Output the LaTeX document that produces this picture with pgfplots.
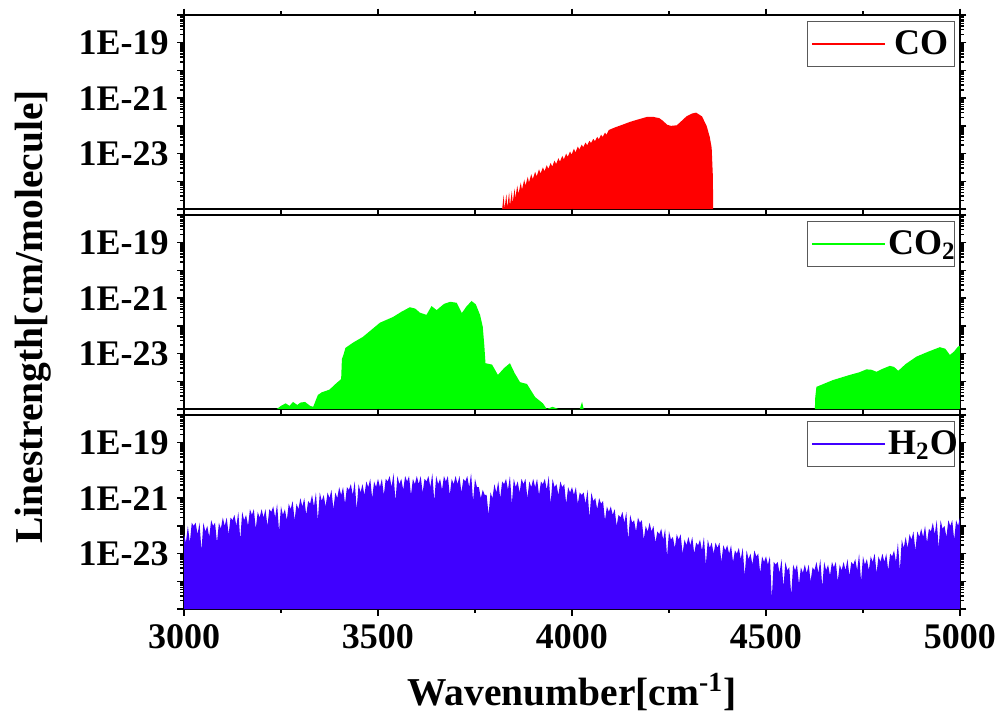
\documentclass[border=0pt]{standalone}
\usepackage{fontspec}
\setmainfont{Liberation Serif}
\usepackage{pgfplots}
\pgfplotsset{compat=1.18}
\definecolor{coRed}{RGB}{255,0,0}
\definecolor{coGreen}{RGB}{0,255,0}
\definecolor{hBlue}{RGB}{64,0,255}
\newcommand{\tickfont}{\fontsize{14.4}{16}\selectfont\bfseries}
\newcommand{\labfont}{\fontsize{15.8}{18}\selectfont\bfseries}
\pgfplotsset{
 legend image code/.code={\draw[#1] (0pt,0pt) -- (29pt,0pt);},
 panel/.style={
  scale only axis, width=310.4pt, height=77.6pt,
  xmin=3000, xmax=5000, ymin=1e-25, ymax=1e-18,
  xtick={3000,3500,4000,4500,5000}, minor xtick={3250,3750,4250,4750},
  ytick={1e-25,1e-24,1e-23,1e-22,1e-21,1e-20,1e-19,1e-18},
  yticklabels={,,1E-23,,1E-21,,1E-19,},
  tick align=outside, tick pos=both,
  major tick length=2.6pt, minor tick length=1.5pt,
  tick style={black, line width=0.6pt},
  axis line style={line width=0.9pt},
  ticklabel style={font=\tickfont},
  legend style={at={(0.9936,0.969)}, anchor=north east, draw=gray!70!black,
    line width=0.5pt, font=\tickfont, inner xsep=1.5pt, inner ysep=1.5pt,
    nodes={text width=24pt, align=right, inner xsep=1pt}},
 }
}
\begin{document}
\begin{tikzpicture}
\useasboundingbox (0,0) rectangle (400pt,287.6pt);
% ---------------- CO ----------------
\begin{axis}[ymode=log, panel, /pgf/number format/assume math mode=true, at={(73.6pt,204pt)}, anchor=south west, xticklabels={}]
\addplot[fill=coRed, draw=none, forget plot] coordinates {
(3820,1e-25)
(3824,3.2e-25)(3826,1e-25)(3831,3.5e-25)(3833,1.1e-25)(3838,4.0e-25)(3840,1.3e-25)
(3845,4.6e-25)(3847,1.6e-25)(3852,5.5e-25)(3854,2.5e-25)(3859,7.0e-25)(3862,3.5e-25)
(3868,9.0e-25)(3871,5.0e-25)(3877,1.15e-24)(3880,7.0e-25)(3886,1.45e-24)(3889,9.0e-25)
(3895,1.8e-24)(3899,1.2e-24)(3905,2.2e-24)(3909,1.5e-24)(3915,2.7e-24)(3919,1.9e-24)
(3925,3.2e-24)(3929,2.3e-24)(3935,3.8e-24)(3939,2.8e-24)(3945,4.6e-24)(3949,3.4e-24)
(3955,5.6e-24)(3959,4.2e-24)(3965,6.8e-24)(3969,5.1e-24)(3975,8.3e-24)(3979,6.2e-24)
(3985,1.0e-23)(3989,7.6e-24)(3995,1.2e-23)(3999,9.2e-24)(4005,1.5e-23)(4009,1.1e-23)
(4015,1.8e-23)(4019,1.4e-23)(4025,2.1e-23)(4029,1.7e-23)(4035,2.5e-23)(4039,2.0e-23)
(4045,2.9e-23)(4049,2.4e-23)(4055,3.4e-23)(4059,2.8e-23)(4065,4.0e-23)(4069,3.3e-23)
(4075,4.8e-23)(4079,4.0e-23)(4085,5.7e-23)(4089,4.8e-23)(4095,7.1e-23)
(4110,8.7e-23)(4130,1.1e-22)(4150,1.4e-22)(4170,1.7e-22)(4193,2.1e-22)(4210,2.1e-22)
(4225,1.9e-22)(4235,1.5e-22)(4245,1.1e-22)(4255,1.0e-22)(4270,1.05e-22)(4280,1.4e-22)
(4295,2.2e-22)(4310,2.8e-22)(4320,3.0e-22)(4335,2.2e-22)(4347,1.0e-22)(4355,4.0e-23)
(4360,1.6e-23)(4363,1.6e-24)(4364,1e-25)
} -- cycle;
\addlegendimage{coRed, line width=0.8pt}
\addlegendentry{CO}
\end{axis}
% ---------------- CO2 ----------------
\begin{axis}[ymode=log, panel, /pgf/number format/assume math mode=true, at={(73.6pt,124pt)}, anchor=south west, xticklabels={}]
\addplot[fill=coGreen, draw=none, forget plot] coordinates {
(3239,1e-25)(3250,1.3e-25)(3262,1.6e-25)(3272,1.3e-25)(3281,1.8e-25)(3292,1.4e-25)
(3300,1.7e-25)(3312,1.8e-25)(3325,1.3e-25)(3333,1.2e-25)(3345,3.2e-25)(3355,4.0e-25)
(3375,5.0e-25)(3390,7.9e-25)(3405,1.2e-24)(3407,6.3e-24)(3412,1.0e-23)(3416,1.6e-23)
(3436,2.5e-23)(3461,4.0e-23)(3505,1.3e-22)(3539,2.1e-22)(3560,3.2e-22)(3582,4.7e-22)
(3596,4.2e-22)(3608,3.0e-22)(3625,2.5e-22)(3638,5.2e-22)(3651,3.7e-22)(3670,6.2e-22)
(3686,7.4e-22)(3703,6.8e-22)(3716,2.9e-22)(3728,5.0e-22)(3741,7.9e-22)(3752,6.0e-22)
(3763,2.5e-22)(3770,9.3e-23)(3774,2.0e-23)(3777,4.5e-24)(3794,4.0e-24)(3809,1.7e-24)
(3825,3.0e-24)(3840,4.5e-24)(3852,2.0e-24)(3866,9.3e-25)(3884,8.0e-25)(3895,4.5e-25)
(3905,2.7e-25)(3925,1.6e-25)(3935,1e-25)(3950,1.2e-25)(3965,1e-25)(4020,1e-25)
(4026,1.8e-25)(4030,1e-25)
} -- cycle;
\addplot[fill=coGreen, draw=none, forget plot] coordinates {
(4626,1e-25)(4627,2.7e-25)(4630,6.3e-25)(4639,7.1e-25)(4672,1.1e-24)(4716,1.7e-24)
(4740,2.1e-24)(4759,2.7e-24)(4772,2.6e-24)(4785,2.2e-24)(4800,2.8e-24)(4819,3.6e-24)
(4830,3.3e-24)(4841,2.4e-24)(4860,4.2e-24)(4888,7.8e-24)(4920,1.2e-23)(4948,1.7e-23)
(4962,1.5e-23)(4974,8.9e-24)(4985,1.2e-23)(4995,1.8e-23)(5000,1.9e-23)(5000,1e-25)
} -- cycle;
\addlegendimage{coGreen, line width=0.8pt}
\addlegendentry{CO\textsubscript{2}}
\end{axis}
% ---------------- H2O ----------------
\begin{axis}[ymode=log, panel, /pgf/number format/assume math mode=true, at={(73.6pt,44pt)}, anchor=south west,
  xticklabels={3000,3500,4000,4500,5000}]
\addplot[fill=hBlue, draw=none, forget plot] coordinates {
(3000,1e-25)
(3000,5.0e-23)(3005,2.5e-23)(3010,1.0e-22)(3015,2.5e-23)(3020,1.3e-22)(3025,1.0e-22)
(3030,1.3e-22)(3035,5.0e-23)(3040,1.3e-22)(3045,1.3e-23)(3050,1.3e-22)(3055,6.3e-23)
(3060,1.0e-22)(3065,4.0e-23)(3070,1.6e-22)(3075,1.0e-22)(3080,1.3e-22)(3085,2.5e-23)
(3090,1.3e-22)(3095,7.9e-23)(3100,2.0e-22)(3105,1.0e-22)(3110,2.0e-22)(3115,5.0e-23)
(3120,2.0e-22)(3125,1.6e-22)(3130,2.5e-22)(3135,1.0e-22)(3140,3.2e-22)(3145,3.2e-23)
(3150,3.2e-22)(3155,1.6e-22)(3160,2.5e-22)(3165,1.0e-22)(3170,4.0e-22)(3175,2.5e-22)
(3180,4.0e-22)(3185,7.9e-23)(3190,3.2e-22)(3195,2.0e-22)(3200,4.0e-22)(3205,2.0e-22)
(3210,4.0e-22)(3215,1.0e-22)(3220,4.0e-22)(3225,3.2e-22)(3230,5.0e-22)(3235,2.0e-22)
(3240,6.3e-22)(3245,6.3e-23)(3250,5.0e-22)(3255,2.5e-22)(3260,4.0e-22)(3265,1.6e-22)
(3270,6.3e-22)(3275,4.0e-22)(3280,7.9e-22)(3285,1.6e-22)(3290,6.3e-22)(3295,4.0e-22)
(3300,1.0e-21)(3305,5.0e-22)(3310,1.0e-21)(3315,2.5e-22)(3320,7.9e-22)(3325,6.3e-22)
(3330,1.3e-21)(3335,5.0e-22)(3340,1.6e-21)(3345,1.6e-22)(3350,1.6e-21)(3355,7.9e-22)
(3360,1.3e-21)(3365,5.0e-22)(3370,1.6e-21)(3375,1.0e-21)(3380,2.0e-21)(3385,4.0e-22)
(3390,1.6e-21)(3395,1.0e-21)(3400,2.5e-21)(3405,1.3e-21)(3410,2.5e-21)(3415,6.3e-22)
(3420,2.5e-21)(3425,2.0e-21)(3430,3.2e-21)(3435,1.3e-21)(3440,4.0e-21)(3445,4.0e-22)
(3450,3.2e-21)(3455,1.6e-21)(3460,3.2e-21)(3465,1.3e-21)(3470,4.0e-21)(3475,2.5e-21)
(3480,5.0e-21)(3485,1.0e-21)(3490,4.0e-21)(3495,2.5e-21)(3500,5.0e-21)(3505,2.5e-21)
(3510,5.0e-21)(3515,1.3e-21)(3520,5.0e-21)(3525,4.0e-21)(3530,6.3e-21)(3535,2.5e-21)
(3540,7.9e-21)(3545,7.9e-22)(3550,6.3e-21)(3555,3.2e-21)(3560,5.0e-21)(3565,2.0e-21)
(3570,6.3e-21)(3575,4.0e-21)(3580,6.3e-21)(3585,1.3e-21)(3590,5.0e-21)(3595,3.2e-21)
(3600,6.3e-21)(3605,3.2e-21)(3610,6.3e-21)(3615,1.6e-21)(3620,5.0e-21)(3625,4.0e-21)
(3630,6.3e-21)(3635,2.5e-21)(3640,7.9e-21)(3645,7.9e-22)(3650,6.3e-21)(3655,3.2e-21)
(3660,5.0e-21)(3665,2.0e-21)(3670,6.3e-21)(3675,4.0e-21)(3680,6.3e-21)(3685,1.3e-21)
(3690,5.0e-21)(3695,3.2e-21)(3700,6.3e-21)(3705,3.2e-21)(3710,6.3e-21)(3715,1.6e-21)
(3720,5.0e-21)(3725,4.0e-21)(3730,6.3e-21)(3735,2.5e-21)(3740,7.9e-21)(3745,7.9e-22)
(3750,5.0e-21)(3755,2.5e-21)(3760,2.5e-21)(3765,1.0e-21)(3770,2.0e-21)(3775,1.3e-21)
(3780,1.3e-21)(3785,2.5e-22)(3790,1.6e-21)(3795,1.0e-21)(3800,3.2e-21)(3805,1.6e-21)
(3810,4.0e-21)(3815,1.0e-21)(3820,4.0e-21)(3825,3.2e-21)(3830,5.0e-21)(3835,2.0e-21)
(3840,6.3e-21)(3845,6.3e-22)(3850,5.0e-21)(3855,2.5e-21)(3860,4.0e-21)(3865,1.6e-21)
(3870,5.0e-21)(3875,3.2e-21)(3880,5.0e-21)(3885,1.0e-21)(3890,4.0e-21)(3895,2.5e-21)
(3900,5.0e-21)(3905,2.5e-21)(3910,5.0e-21)(3915,1.3e-21)(3920,4.0e-21)(3925,3.2e-21)
(3930,5.0e-21)(3935,2.0e-21)(3940,6.3e-21)(3945,6.3e-22)(3950,5.0e-21)(3955,2.5e-21)
(3960,3.2e-21)(3965,1.3e-21)(3970,4.0e-21)(3975,2.5e-21)(3980,3.2e-21)(3985,6.3e-22)
(3990,2.5e-21)(3995,1.6e-21)(4000,2.5e-21)(4005,1.3e-21)(4010,2.5e-21)(4015,6.3e-22)
(4020,1.6e-21)(4025,1.3e-21)(4030,1.6e-21)(4035,6.3e-22)(4040,2.0e-21)(4045,2.0e-22)
(4050,1.6e-21)(4055,7.9e-22)(4060,1.0e-21)(4065,4.0e-22)(4070,1.0e-21)(4075,6.3e-22)
(4080,7.9e-22)(4085,1.6e-22)(4090,5.0e-22)(4095,3.2e-22)(4100,5.0e-22)(4105,2.5e-22)
(4110,4.0e-22)(4115,1.0e-22)(4120,2.5e-22)(4125,2.0e-22)(4130,3.2e-22)(4135,1.3e-22)
(4140,3.2e-22)(4145,3.2e-23)(4150,2.5e-22)(4155,1.3e-22)(4160,1.6e-22)(4165,6.3e-23)
(4170,2.0e-22)(4175,1.3e-22)(4180,1.6e-22)(4185,3.2e-23)(4190,1.0e-22)(4195,6.3e-23)
(4200,1.3e-22)(4205,6.3e-23)(4210,1.0e-22)(4215,2.5e-23)(4220,6.3e-23)(4225,5.0e-23)
(4230,7.9e-23)(4235,3.2e-23)(4240,7.9e-23)(4245,7.9e-24)(4250,6.3e-23)(4255,3.2e-23)
(4260,4.0e-23)(4265,1.6e-23)(4270,5.0e-23)(4275,3.2e-23)(4280,5.0e-23)(4285,1.0e-23)
(4290,3.2e-23)(4295,2.0e-23)(4300,4.0e-23)(4305,2.0e-23)(4310,4.0e-23)(4315,1.0e-23)
(4320,2.5e-23)(4325,2.0e-23)(4330,3.2e-23)(4335,1.3e-23)(4340,4.0e-23)(4345,4.0e-24)
(4350,3.2e-23)(4355,1.6e-23)(4360,2.5e-23)(4365,1.0e-23)(4370,2.5e-23)(4375,1.6e-23)
(4380,2.5e-23)(4385,5.0e-24)(4390,2.0e-23)(4395,1.3e-23)(4400,2.0e-23)(4405,1.0e-23)
(4410,2.0e-23)(4415,5.0e-24)(4420,1.3e-23)(4425,1.0e-23)(4430,1.6e-23)(4435,6.3e-24)
(4440,1.6e-23)(4445,1.6e-24)(4450,1.3e-23)(4455,6.3e-24)(4460,1.0e-23)(4465,4.0e-24)
(4470,1.3e-23)(4475,7.9e-24)(4480,1.0e-23)(4485,2.0e-24)(4490,7.9e-24)(4495,5.0e-24)
(4500,7.9e-24)(4505,4.0e-24)(4510,7.9e-24)(4515,2.5e-25)(4520,5.0e-24)(4525,4.0e-24)
(4530,5.0e-24)(4535,2.0e-24)(4540,6.3e-24)(4545,6.3e-25)(4550,5.0e-24)(4555,2.5e-24)
(4560,3.2e-24)(4565,3.2e-25)(4570,4.0e-24)(4575,2.5e-24)(4580,4.0e-24)(4585,7.9e-25)
(4590,3.2e-24)(4595,2.0e-24)(4600,4.0e-24)(4605,2.0e-24)(4610,4.0e-24)(4615,1.0e-24)
(4620,3.2e-24)(4625,2.5e-24)(4630,5.0e-24)(4635,2.0e-24)(4640,6.3e-24)(4645,6.3e-25)
(4650,5.0e-24)(4655,2.5e-24)(4660,4.0e-24)(4665,1.6e-24)(4670,5.0e-24)(4675,3.2e-24)
(4680,5.0e-24)(4685,1.0e-24)(4690,4.0e-24)(4695,2.5e-24)(4700,5.0e-24)(4705,2.5e-24)
(4710,6.3e-24)(4715,1.6e-24)(4720,5.0e-24)(4725,4.0e-24)(4730,6.3e-24)(4735,2.5e-24)
(4740,1.0e-23)(4745,1.0e-24)(4750,7.9e-24)(4755,4.0e-24)(4760,6.3e-24)(4765,2.5e-24)
(4770,7.9e-24)(4775,5.0e-24)(4780,1.0e-23)(4785,2.0e-24)(4790,7.9e-24)(4795,5.0e-24)
(4800,1.0e-23)(4805,5.0e-24)(4810,1.0e-23)(4815,2.5e-24)(4820,1.0e-23)(4825,7.9e-24)
(4830,1.3e-23)(4835,5.0e-24)(4840,2.5e-23)(4845,2.5e-24)(4850,3.2e-23)(4855,1.6e-23)
(4860,4.0e-23)(4865,1.6e-23)(4870,5.0e-23)(4875,3.2e-23)(4880,6.3e-23)(4885,1.3e-23)
(4890,6.3e-23)(4895,4.0e-23)(4900,7.9e-23)(4905,4.0e-23)(4910,1.0e-22)(4915,2.5e-23)
(4920,7.9e-23)(4925,6.3e-23)(4930,1.3e-22)(4935,5.0e-23)(4940,1.6e-22)(4945,1.6e-23)
(4950,1.6e-22)(4955,7.9e-23)(4960,1.0e-22)(4965,4.0e-23)(4970,1.6e-22)(4975,1.0e-22)
(4980,1.6e-22)(4985,3.2e-23)(4990,1.6e-22)(4995,1.0e-22)(5000,2.0e-22)
(5000,1e-25)
} -- cycle;
\addlegendimage{hBlue, line width=0.8pt}
\addlegendentry{H\textsubscript{2}O}
\end{axis}
\node[rotate=90, font=\labfont] at (13.2pt,160.8pt) {Linestrength[cm/molecule]};
\node[font=\labfont] at (228.8pt,10.8pt) {Wavenumber[cm\textsuperscript{-1}]};
\end{tikzpicture}
\end{document}
